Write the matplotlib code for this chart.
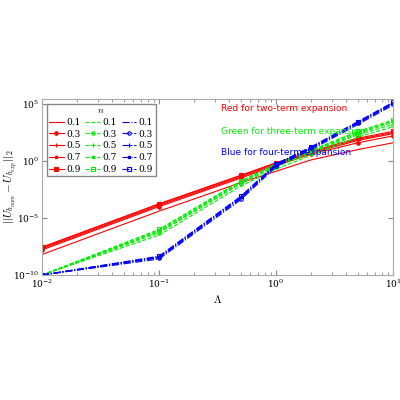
import matplotlib
matplotlib.use("Agg")
import matplotlib.pyplot as plt
import numpy as np

plt.rcParams['mathtext.fontset'] = 'cm'
plt.rcParams['font.family'] = 'serif'
plt.rcParams['font.serif'] = ['DejaVu Serif']

lam = [0.01, 0.1, 0.5, 1, 2, 5, 10]
n_vals = ['0.1', '0.3', '0.5', '0.7', '0.9']
red_log = [
    [-8.2, -4.4, -1.9, -0.9, 0.1, 1.0, 1.6],
    [-7.8, -4.0, -1.5, -0.4, 0.6, 1.6, 2.2],
    [-7.7, -3.9, -1.4, -0.3, 0.7, 1.8, 2.4],
    [-7.6, -3.8, -1.3, -0.2, 0.8, 1.9, 2.5],
    [-7.55, -3.75, -1.25, -0.15, 0.85, 2.0, 2.6],
]
green_log = [
    [-10, -6.5, -2.2, -0.7, 0.5, 2.1, 3.0],
    [-10, -6.3, -2.0, -0.5, 0.7, 2.3, 3.2],
    [-10, -6.2, -1.9, -0.4, 0.8, 2.4, 3.4],
    [-10, -6.1, -1.8, -0.3, 0.9, 2.5, 3.5],
    [-10, -6.0, -1.75, -0.25, 0.95, 2.6, 3.6],
]
blue_log = [
    [-10, -8.6, -3.4, -0.5, 1.0, 3.2, 4.9],
    [-10, -8.5, -3.3, -0.4, 1.1, 3.3, 5.0],
    [-10, -8.45, -3.2, -0.35, 1.15, 3.35, 5.05],
    [-10, -8.4, -3.15, -0.3, 1.2, 3.4, 5.1],
    [-10, -8.35, -3.1, -0.25, 1.25, 3.45, 5.15],
]

fig = plt.figure(figsize=(4, 4), dpi=100)
ax = fig.add_axes([42/400, 1-275/400, 351/400, 176/400])
markers = [None, 'o', '+', '*', 's']
groups = [(red_log, '#ff0000', '-', True), (green_log, '#00ee00', '--', False), (blue_log, '#0000ff', '-.', False)]
handles = []
for data, col, ls, filled in groups:
    for i, row in enumerate(data):
        y = 10 ** np.array(row)
        mfc = col if (filled or markers[i] == '*') else 'none'
        h, = ax.plot(lam, y, color=col, ls=ls, lw=0.8, marker=markers[i], ms=2.5,
                     mfc=mfc, mec=col, mew=0.8, label=n_vals[i])
        handles.append(h)

ax.set_xscale('log'); ax.set_yscale('log')
ax.set_xlim(0.01, 10)
ax.set_ylim(1e-10, 10**5.44)
ax.set_yticks([1e-10, 1e-5, 1e0, 1e5])
ax.tick_params(which='both', direction='in', top=True, right=True, labelsize=6.5, color='#888888', pad=2)
for s in ax.spines.values():
    s.set_color('#aaaaaa')
ax.set_xlabel(r'$\Lambda$', fontsize=8, labelpad=2)
ax.set_ylabel(r'$||U_{b_{num}}-U_{b_{exp}}||_2$', fontsize=8)
ax.yaxis.set_label_coords(-0.065, 0.5)

leg = ax.legend(handles=handles, ncol=3, title=r'$n$', fontsize=6.5, title_fontsize=7,
                loc='upper left', handlelength=1.6, handletextpad=0.3, columnspacing=0.5,
                labelspacing=0.3, borderpad=0.3, fancybox=False, edgecolor='#888888', framealpha=1)
ax.text(0.51, 0.97, 'Red for two-term expansion', color='#ff0000', fontsize=6.5,
        family='DejaVu Sans', transform=ax.transAxes, va='top')
ax.text(0.51, 0.84, 'Green for three-term expansion', color='#00ee00', fontsize=6.5,
        family='DejaVu Sans', transform=ax.transAxes, va='top')
ax.text(0.51, 0.72, 'Blue for four-term expansion', color='#0000ff', fontsize=6.5,
        family='DejaVu Sans', transform=ax.transAxes, va='top')
fig.savefig('out.png', dpi=100)
